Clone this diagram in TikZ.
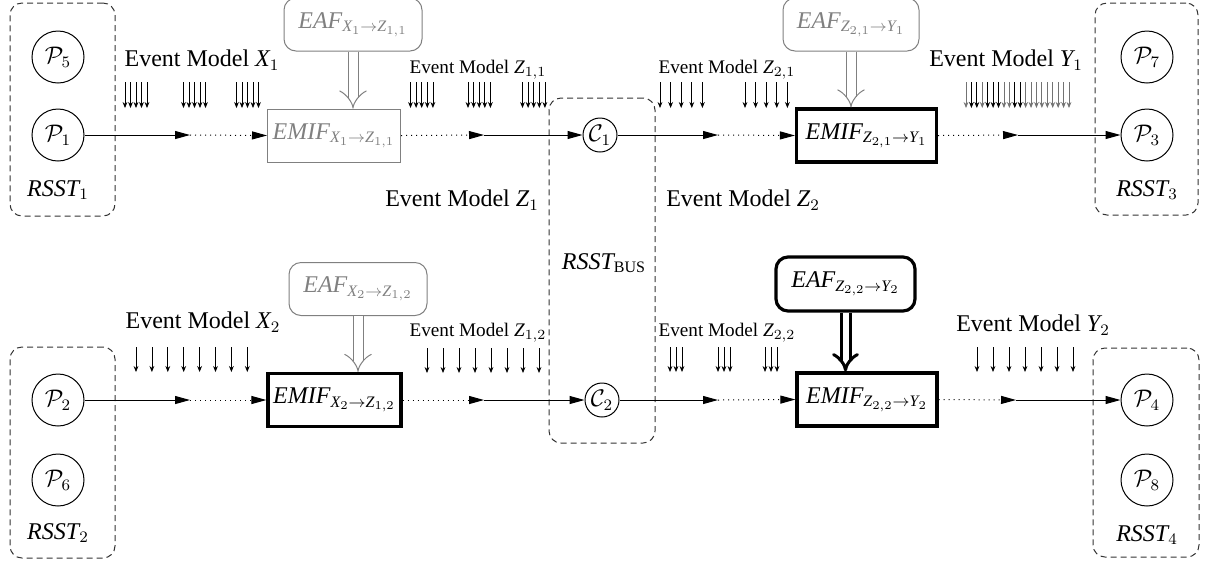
\documentclass[tikz,border=0pt]{standalone}
\usepackage{fontspec}
\setmainfont{Liberation Serif}
\usetikzlibrary{arrows.meta}
\definecolor{softgray}{gray}{0.5}
\newcommand{\mi}[1]{\mathit{#1}}
\begin{document}
\begin{tikzpicture}[x=0.5pt,y=-0.5pt,
  font=\fontsize{12}{14}\selectfont,
  proc/.style={circle,draw,line width=0.5pt,minimum size=26pt,inner sep=0pt},
  chan/.style={circle,draw,line width=0.5pt,minimum size=17pt,inner sep=0pt},
  grp/.style={draw=black!80,line width=0.5pt,dash pattern=on 3pt off 2pt,rounded corners=6pt,inner sep=0pt},
  emifg/.style={draw=softgray,text=softgray,line width=0.5pt,minimum height=26.5pt,inner sep=0pt},
  emifb/.style={draw,line width=1.6pt,minimum height=26.5pt,inner sep=0pt},
  eafg/.style={draw=softgray,text=softgray,line width=0.5pt,rounded corners=6pt,minimum height=26.5pt,inner sep=0pt},
  eafb/.style={draw,line width=1.6pt,rounded corners=6pt,minimum height=27pt,inner sep=0pt},
  big/.style={font=\fontsize{12}{14}\selectfont},
  small/.style={font=\fontsize{9.6}{11}\selectfont},
  flow/.style={line width=0.5pt,-{Triangle[length=7.5pt,width=4pt]}},
  flowdot/.style={flow,dash pattern=on 0.5pt off 2pt},
  evt/.style={line width=0.4pt,-{Stealth[length=3pt,width=2.4pt]}},
  feedg/.style={draw=softgray,line width=0.5pt,double,double distance=4.5pt,-{Implies}},
  feedb/.style={draw,line width=1.5pt,double,double distance=3pt,-{Implies}}]
\useasboundingbox (0,0) rectangle (1209,564);

% ---- resource groups (dashed) ----
\node[grp,minimum width=52.5pt,minimum height=106.5pt] (rsst1) at (62.5,109.5) {};
\node[grp,minimum width=52.5pt,minimum height=105.5pt] (rsst2) at (62.5,452.5) {};
\node[grp,minimum width=51.5pt,minimum height=106pt] (rsst3) at (1146.5,109) {};
\node[grp,minimum width=53pt,minimum height=104.5pt] (rsst4) at (1146,452.5) {};
\node[grp,minimum width=53pt,minimum height=172.5pt] (bus) at (602,270.5) {};

\node (l1) at (58,190) {$\mi{RSST}_1$};
\node (l2) at (58,533) {$\mi{RSST}_2$};
\node (l3) at (1147,190) {$\mi{RSST}_3$};
\node (l4) at (1147,535) {$\mi{RSST}_4$};
\node (lb) at (604,263) {$\mi{RSST}_{\mathrm{BUS}}$};

% ---- processors and channels ----
\node[proc] (p5) at (58,57) {$\mathcal{P}_5$};
\node[proc] (p1) at (58,135) {$\mathcal{P}_1$};
\node[proc] (p2) at (58,400) {$\mathcal{P}_2$};
\node[proc] (p6) at (58,480) {$\mathcal{P}_6$};
\node[proc] (p7) at (1147,57) {$\mathcal{P}_7$};
\node[proc] (p3) at (1147,135) {$\mathcal{P}_3$};
\node[proc] (p4) at (1147,400) {$\mathcal{P}_4$};
\node[proc] (p8) at (1147,480) {$\mathcal{P}_8$};
\node[chan] (c1) at (600,135) {$\mathcal{C}_1$};
\node[chan] (c2) at (602,400) {$\mathcal{C}_2$};

% ---- interface functions ----
\node[emifg,minimum width=66.5pt] (e1) at (334,135.5) {$\mi{EMIF}_{\mi{X}_1\rightarrow \mi{Z}_{1,1}}$};
\node[emifb,minimum width=70pt] (e3) at (866.5,135.5) {$\mi{EMIF}_{\mi{Z}_{2,1}\rightarrow \mi{Y}_1}$};
\node[emifb,minimum width=66.5pt] (e2) at (334.5,400) {$\mi{EMIF}_{\mi{X}_2\rightarrow \mi{Z}_{1,2}}$};
\node[emifb,minimum width=70pt] (e4) at (867,399.5) {$\mi{EMIF}_{\mi{Z}_{2,2}\rightarrow \mi{Y}_2}$};

\node[eafg,minimum width=69pt] (f1) at (353,24.5) {$\mi{EAF}_{\mi{X}_1\rightarrow \mi{Z}_{1,1}}$};
\node[eafg,minimum width=68pt] (f3) at (851,24.5) {$\mi{EAF}_{\mi{Z}_{2,1}\rightarrow \mi{Y}_1}$};
\node[eafg,minimum width=69pt] (f2) at (358,289) {$\mi{EAF}_{\mi{X}_2\rightarrow \mi{Z}_{1,2}}$};
\node[eafb,minimum width=69.5pt] (f4) at (845.5,284) {$\mi{EAF}_{\mi{Z}_{2,2}\rightarrow \mi{Y}_2}$};

\draw[feedg] (f1.south) -- (f1.south |- e1.north);
\draw[feedg] (f3.south) -- (f3.south |- e3.north);
\draw[feedg] (f2.south) -- (f2.south |- e2.north);
\draw[feedb] (f4.south) -- (f4.south |- e4.north);

% ---- event streams along the chains ----
\coordinate (a1) at (190,135);
\coordinate (b1) at (484,135);
\coordinate (m1) at (718,135);
\coordinate (d1) at (1018,135);
\coordinate (a2) at (190,400);
\coordinate (b2) at (484,400);
\coordinate (m2) at (718,400);
\coordinate (d2) at (1016,400);

\draw[flow] (p1) -- (a1);
\draw[flowdot] (a1) -- (e1.west);
\draw[flowdot] (e1.east) -- (b1);
\draw[flow] (b1) -- (c1);
\draw[flow] (c1) -- (m1);
\draw[flowdot] (m1) -- (e3.west);
\draw[flowdot] (e3.east) -- (d1);
\draw[flow] (d1) -- (p3);

\draw[flow] (p2) -- (a2);
\draw[flowdot] (a2) -- (e2.west);
\draw[flowdot] (e2.east) -- (b2);
\draw[flow] (b2) -- (c2);
\draw[flow] (c2) -- (m2);
\draw[flowdot] (m2) -- (e4.west);
\draw[flowdot] (e4.east) -- (d2);
\draw[flow] (d2) -- (p4);

% ---- event model labels ----
\node[big] (tx1) at (202,60) {Event Model $\mi{X}_1$};
\node[small] (tz11) at (478,70) {Event Model $\mi{Z}_{1,1}$};
\node[small] (tz21) at (727,70) {Event Model $\mi{Z}_{2,1}$};
\node[big] (ty1) at (1006,60) {Event Model $\mi{Y}_1$};
\node[big] (tz1) at (462,200) {Event Model $\mi{Z}_1$};
\node[big] (tz2) at (743,200) {Event Model $\mi{Z}_2$};
\node[big] (tx2) at (203,322) {Event Model $\mi{X}_2$};
\node[small] (tz12) at (478,333) {Event Model $\mi{Z}_{1,2}$};
\node[small] (tz22) at (727,333) {Event Model $\mi{Z}_{2,2}$};
\node[big] (ty2) at (1033,325) {Event Model $\mi{Y}_2$};

% ---- event arrival patterns ----
\foreach \s in {125,183.5,236.5}
  \foreach \k in {0,...,4}
    \draw[evt] (\s+5.5*\k,82) -- (\s+5.5*\k,108);
\foreach \s in {410.5,468,522.5}
  \foreach \k in {0,...,4}
    \draw[evt] (\s+5.6*\k,82) -- (\s+5.6*\k,108);
\foreach \s in {660,745}
  \foreach \k in {0,...,4}
    \draw[evt] (\s+10.6*\k,82) -- (\s+10.6*\k,108);
% output stream: bursts (dark) merged with the shaped stream (grey)
\foreach \k in {0,...,19}{
  \pgfmathtruncatemacro{\dark}{(\k==1)||(\k==2)||(\k==4)||(\k==5)||(\k==6)||(\k==9)||(\k==10)}
  \ifnum\dark=1 \def\ec{black}\else\def\ec{black!55}\fi
  \draw[evt,draw=\ec] (966+5.42*\k,82) -- (966+5.42*\k,108);
}
\foreach \k in {0,...,7}
  \draw[evt] (136+15.9*\k,347) -- (136+15.9*\k,372);
\foreach \k in {0,...,7}
  \draw[evt] (427+16*\k,348) -- (427+16*\k,373);
\foreach \s in {670,718,765}
  \foreach \k in {0,...,2}
    \draw[evt] (\s+6*\k,347) -- (\s+6*\k,372);
\foreach \k in {0,...,6}
  \draw[evt] (977+16*\k,347) -- (977+16*\k,372);
\end{tikzpicture}
\end{document}
